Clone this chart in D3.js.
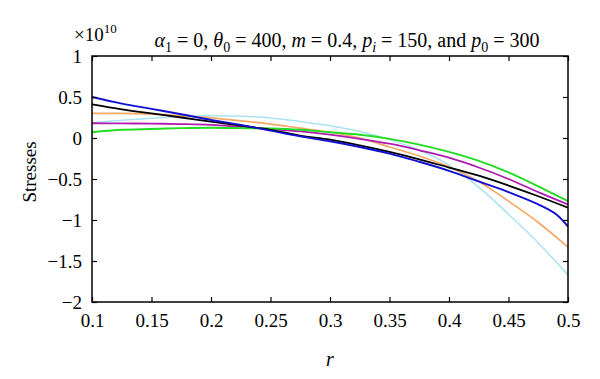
<!DOCTYPE html>
<html>
<head>
<meta charset="utf-8">
<script src="https://cdn.jsdelivr.net/npm/d3@7"></script>
<style>
  html, body { margin: 0; padding: 0; background: #fff; }
  svg { display: block; }
  svg text { font-family: "Liberation Serif", "Times New Roman", Times, "DejaVu Serif", serif; fill: #000; }
</style>
</head>
<body>
<svg id="chart" width="600" height="379"></svg>
<script>
// ---- data (stress values in units of 1e10) ----
const rValues = [0.1, 0.125, 0.15, 0.175, 0.2, 0.225, 0.25, 0.275, 0.3, 0.325, 0.35, 0.375, 0.4, 0.425, 0.45, 0.475, 0.5];
const blueR   = [0.1, 0.125, 0.15, 0.175, 0.2, 0.225, 0.25, 0.275, 0.3, 0.325, 0.35, 0.375, 0.4, 0.425, 0.45, 0.475, 0.49, 0.5];
const blueSeries    = [0.50, 0.42, 0.355, 0.29, 0.22, 0.16, 0.09, 0.02, -0.04, -0.11, -0.19, -0.29, -0.40, -0.53, -0.66, -0.81, -0.93, -1.08];
const blackSeries   = [0.41, 0.35, 0.30, 0.25, 0.20, 0.15, 0.10, 0.03, -0.02, -0.09, -0.17, -0.26, -0.36, -0.46, -0.58, -0.71, -0.85];
const orangeSeries  = [0.30, 0.30, 0.29, 0.27, 0.245, 0.21, 0.17, 0.12, 0.07, 0.0, -0.11, -0.22, -0.35, -0.53, -0.77, -1.03, -1.33];
const cyanSeries    = [0.185, 0.215, 0.24, 0.26, 0.27, 0.265, 0.245, 0.20, 0.15, 0.08, -0.02, -0.15, -0.33, -0.60, -0.93, -1.28, -1.67];
const magentaSeries = [0.18, 0.178, 0.175, 0.17, 0.16, 0.135, 0.11, 0.08, 0.04, -0.01, -0.07, -0.15, -0.24, -0.36, -0.50, -0.66, -0.81];
const greenSeries   = [0.07, 0.10, 0.11, 0.12, 0.125, 0.12, 0.115, 0.10, 0.07, 0.04, -0.01, -0.08, -0.17, -0.28, -0.42, -0.59, -0.77];
const xTicks = [0.1, 0.15, 0.2, 0.25, 0.3, 0.35, 0.4, 0.45, 0.5];
const xTickLabels = ["0.1", "0.15", "0.2", "0.25", "0.3", "0.35", "0.4", "0.45", "0.5"];
const yTicks = [1, 0.5, 0, -0.5, -1, -1.5, -2];
const yTickLabels = ["1", "0.5", "0", "\u22120.5", "\u22121", "\u22121.5", "\u22122"];

const seriesList = [
  { r: rValues, v: cyanSeries,    color: "#a9e3f2", width: 1.5 },
  { r: rValues, v: orangeSeries,  color: "#f4a866", width: 1.7 },
  { r: rValues, v: magentaSeries, color: "#b01cb0", width: 1.8 },
  { r: rValues, v: greenSeries,   color: "#22dd22", width: 1.9 },
  { r: rValues, v: blackSeries,   color: "#000000", width: 1.8 },
  { r: blueR,   v: blueSeries,    color: "#1010d0", width: 1.9 }
];

// ---- layout ----
const mL = 92, mR = 568, mT = 56, mB = 302;
const FONT = "'Liberation Serif', 'Times New Roman', Times, 'DejaVu Serif', serif";
const svg = d3.select("#chart");
const x = d3.scaleLinear().domain([0.1, 0.5]).range([mL, mR]);
const y = d3.scaleLinear().domain([-2, 1]).range([mB, mT]);

svg.append("clipPath").attr("id", "clip")
  .append("rect").attr("x", mL).attr("y", mT).attr("width", mR - mL).attr("height", mB - mT);

const line = d3.line().curve(d3.curveCatmullRom.alpha(0.5));
const g = svg.append("g").attr("clip-path", "url(#clip)");
seriesList.forEach(s => {
  const pts = s.r.map((r, i) => [x(r), y(s.v[i])]);
  g.append("path").attr("d", line(pts))
    .attr("fill", "none").attr("stroke", s.color)
    .attr("stroke-width", s.width).attr("stroke-linejoin", "round");
});

// axes (inward ticks on all sides)
const tickLen = 5;
const fmtX = d => xTickLabels[xTicks.indexOf(d)];
const fmtY = d => yTickLabels[yTicks.indexOf(d)];

const axB = svg.append("g").attr("transform", `translate(0,${mB})`)
  .call(d3.axisBottom(x).tickValues(xTicks).tickSizeInner(-tickLen).tickSizeOuter(0).tickPadding(12).tickFormat(fmtX));
const axT = svg.append("g").attr("transform", `translate(0,${mT})`)
  .call(d3.axisTop(x).tickValues(xTicks).tickSizeInner(-tickLen).tickSizeOuter(0).tickFormat(""));
const axL = svg.append("g").attr("transform", `translate(${mL},0)`)
  .call(d3.axisLeft(y).tickValues(yTicks).tickSizeInner(-tickLen).tickSizeOuter(0).tickPadding(10).tickFormat(fmtY));
const axR = svg.append("g").attr("transform", `translate(${mR},0)`)
  .call(d3.axisRight(y).tickValues(yTicks).tickSizeInner(-tickLen).tickSizeOuter(0).tickFormat(""));

[axB, axT, axL, axR].forEach(a => {
  a.attr("font-family", null).attr("font-size", null);
  a.select(".domain").remove();
  a.selectAll(".tick line").attr("stroke", "#000").attr("stroke-width", 1.2);
  a.selectAll("text").style("font-family", FONT).style("font-size", "19px");
});
axB.selectAll("text").attr("dy", "0.71em");

// frame
svg.append("rect").attr("x", mL).attr("y", mT).attr("width", mR - mL).attr("height", mB - mT)
  .attr("fill", "none").attr("stroke", "#000").attr("stroke-width", 1.5);

// exponent label
const ex = svg.append("text").attr("x", 74).attr("y", 41).style("font-size", "19px");
ex.append("tspan").text("\u00d710");
ex.append("tspan").style("font-size", "13px").attr("dy", -8).text("10");

// title
const title = svg.append("text").attr("x", 347).attr("y", 47).attr("text-anchor", "middle").style("font-size", "20px");
function addT(txt, opts = {}) {
  const t = title.append("tspan").text(txt);
  if (opts.italic) t.style("font-style", "italic");
  if (opts.sub) t.style("font-size", "14px").attr("dy", 5);
  if (opts.up) t.attr("dy", -5);
  return t;
}
addT("\u03b1", { italic: true }); addT("1", { sub: true }); addT(" = 0, ", { up: true });
addT("\u03b8", { italic: true }); addT("0", { sub: true }); addT(" = 400, ", { up: true });
addT("m", { italic: true }); addT(" = 0.4, ");
addT("p", { italic: true }); addT("i", { sub: true, italic: true }); addT(" = 150, and ", { up: true });
addT("p", { italic: true }); addT("0", { sub: true }); addT(" = 300", { up: true });

// axis titles
svg.append("text").attr("transform", `translate(36,172) rotate(-90)`)
  .attr("text-anchor", "middle").style("font-size", "19px").text("Stresses");
svg.append("text").attr("x", 330).attr("y", 366).attr("text-anchor", "middle")
  .style("font-size", "20px").style("font-style", "italic").text("r");
</script>
</body>
</html>
